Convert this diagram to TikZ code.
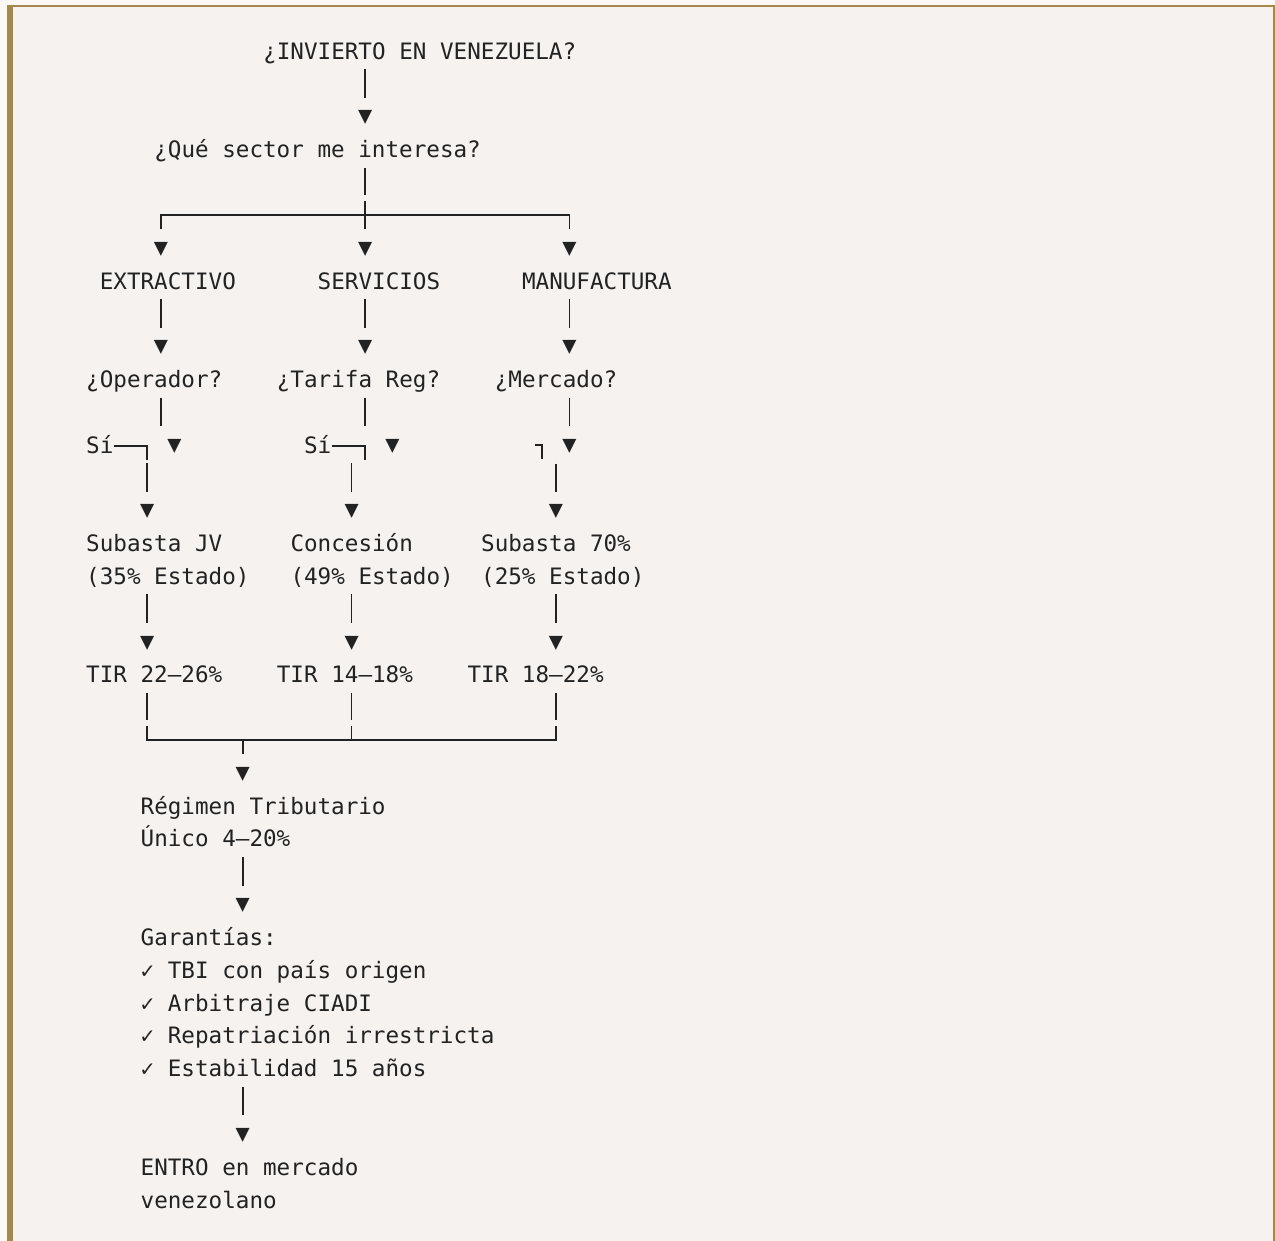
\documentclass[tikz,border=0pt]{standalone}
\usepackage{fontspec}
\usepackage{tikz}
\usetikzlibrary{calc}
\newfontfamily\codefont{DejaVu Sans Mono}
\definecolor{ink}{HTML}{222222}
\definecolor{paper}{HTML}{F5F2F0}
\definecolor{page}{HTML}{FBF8F6}
\definecolor{gold}{HTML}{A5884A}
\tikzset{
  txt/.style={anchor=base west, inner sep=0pt, align=left, yshift=-8.3pt, text=ink,
    font=\codefont\fontsize{22.6}{32.82}\selectfont, execute at end node=\strut},
  tip/.style={inner sep=0pt, yshift=-1.2pt, text=ink, font=\codefont\fontsize{23.5}{32.82}\selectfont},
  stem/.style={draw=ink, line width=1.8pt},
}

\begin{document}
\begin{tikzpicture}[x=13.62pt, y=-32.82pt]
    \useasboundingbox (-86pt,51pt) rectangle (1189pt,-1190pt);
    \fill[page] (-86pt,51pt) rectangle (1189pt,-1190pt);
    \fill[gold] (-79pt,46pt) rectangle (1189pt,-1190pt);
    \fill[paper] (-73pt,44pt) rectangle (1186.7pt,-1190pt);

    \node[txt] (t0) at (13,0) {¿INVIERTO EN VENEZUELA?};
    \node[tip] (a0) at (20.5,2) {▼};
    \node[txt] (q1) at (5,3) {¿Qué sector me interesa?};
    \coordinate (fork) at (20.5,5);
    \node[tip] (a1) at (5.5,6) {▼};
    \node[tip] (a2) at (20.5,6) {▼};
    \node[tip] (a3) at (35.5,6) {▼};

    \node[txt] (s1) at (1,7) {EXTRACTIVO};
    \node[txt] (s2) at (17,7) {SERVICIOS};
    \node[txt] (s3) at (32,7) {MANUFACTURA};
    \node[tip] (u1) at (5.5,9) {▼};
    \node[tip] (u2) at (20.5,9) {▼};
    \node[tip] (u3) at (35.5,9) {▼};

    \node[txt] (o1) at (0,10) {¿Operador?};
    \node[txt] (o2) at (14,10) {¿Tarifa Reg?};
    \node[txt] (o3) at (30,10) {¿Mercado?};
    \node[txt] (si1) at (0,12) {Sí};
    \node[txt] (si2) at (16,12) {Sí};
    \coordinate (k3) at (33.5,12);
    \node[tip] (v1) at (6.5,12) {▼};
    \node[tip] (v2) at (22.5,12) {▼};
    \node[tip] (v3) at (35.5,12) {▼};
    \node[tip] (w1) at (4.5,14) {▼};
    \node[tip] (w2) at (19.5,14) {▼};
    \node[tip] (w3) at (34.5,14) {▼};

    \node[txt] (b1) at (0,16) {Subasta JV\\(35\% Estado)};
    \node[txt] (b2) at (15,16) {Concesión\\(49\% Estado)};
    \node[txt] (b3) at (29,16) {Subasta 70\%\\(25\% Estado)};
    \node[tip] (x1) at (4.5,18) {▼};
    \node[tip] (x2) at (19.5,18) {▼};
    \node[tip] (x3) at (34.5,18) {▼};

    \node[txt] (c1) at (0,19) {TIR 22–26\%};
    \node[txt] (c2) at (14,19) {TIR 14–18\%};
    \node[txt] (c3) at (28,19) {TIR 18–22\%};
    \coordinate (bar) at (11.5,21);
    \node[tip] (y1) at (11.5,22) {▼};

    \node[txt] (rg) at (4,24) {Régimen Tributario\\Único 4–20\%};
    \node[tip] (y2) at (11.5,26) {▼};
    \node[txt] (ga) at (4,31) {Garantías:\\✓ TBI con país origen\\✓ Arbitraje CIADI\\✓ Repatriación irrestricta\\✓ Estabilidad 15 años};
    \node[tip] (y3) at (11.5,33) {▼};
    \node[txt] (en) at (4,35) {ENTRO en mercado\\venezolano};

    \draw[stem, shorten >=20pt] (a0 |- t0.south) -- (a0.center);
    \draw[stem, shorten >=20pt] (a2 |- q1.south) -- (fork);
    \draw[stem, shorten <=20pt, shorten >=20pt] (a1.center) |- (fork) -| (a3.center);
    \draw[stem, shorten >=20pt] ([yshift=14pt]fork) -- (a2.center);
    \draw[stem, shorten >=20pt] (u1 |- s1.south) -- (u1.center);
    \draw[stem, shorten >=20pt] (u2 |- s2.south) -- (u2.center);
    \draw[stem, shorten >=20pt] (u3 |- s3.south) -- (u3.center);

    \draw[stem, shorten >=20pt] (u1 |- o1.south) -- (v1 -| u1);
    \draw[stem, shorten >=20pt] (u2 |- o2.south) -- (v2 -| u2);
    \draw[stem, shorten >=20pt] (v3 |- o3.south) -- (v3.center);
    \draw[stem] (si1.east |- v1) -| ([yshift=-14pt]v1 -| w1);
    \draw[stem, shorten >=20pt] (w1 |- si1.south) -- (w1.center);
    \draw[stem] (si2.east |- v2) -| ([yshift=-14pt]v2 -| u2);
    \draw[stem, shorten >=20pt] (w2 |- si2.south) -- (w2.center);
    \draw[stem] ([xshift=-6.81pt]k3) -- (k3) -- ([yshift=-14pt]k3);
    \draw[stem, shorten <=18.8pt, shorten >=20pt] (w3 |- k3) -- (w3.center);

    \draw[stem, shorten >=20pt] (x1 |- b1.south) -- (x1.center);
    \draw[stem, shorten >=20pt] (x2 |- b2.south) -- (x2.center);
    \draw[stem, shorten >=20pt] (x3 |- b3.south) -- (x3.center);
    \draw[stem, shorten >=20pt] (x1 |- c1.south) -- (x1 |- bar);
    \draw[stem, shorten >=20pt] (x2 |- c2.south) -- (x2 |- bar);
    \draw[stem, shorten >=20pt] (x3 |- c3.south) -- (x3 |- bar);
    \draw[stem] ([yshift=14pt]bar -| x1) |- (bar) -| ([yshift=14pt]bar -| x3);
    \draw[stem] ([yshift=14pt]bar -| x2) -- (bar -| x2);
    \draw[stem, shorten >=20pt] (bar) -- (y1.center);
    \draw[stem, shorten >=20pt] (y2 |- rg.south) -- (y2.center);
    \draw[stem, shorten >=20pt] (y3 |- ga.south) -- (y3.center);
\end{tikzpicture}
\end{document}
